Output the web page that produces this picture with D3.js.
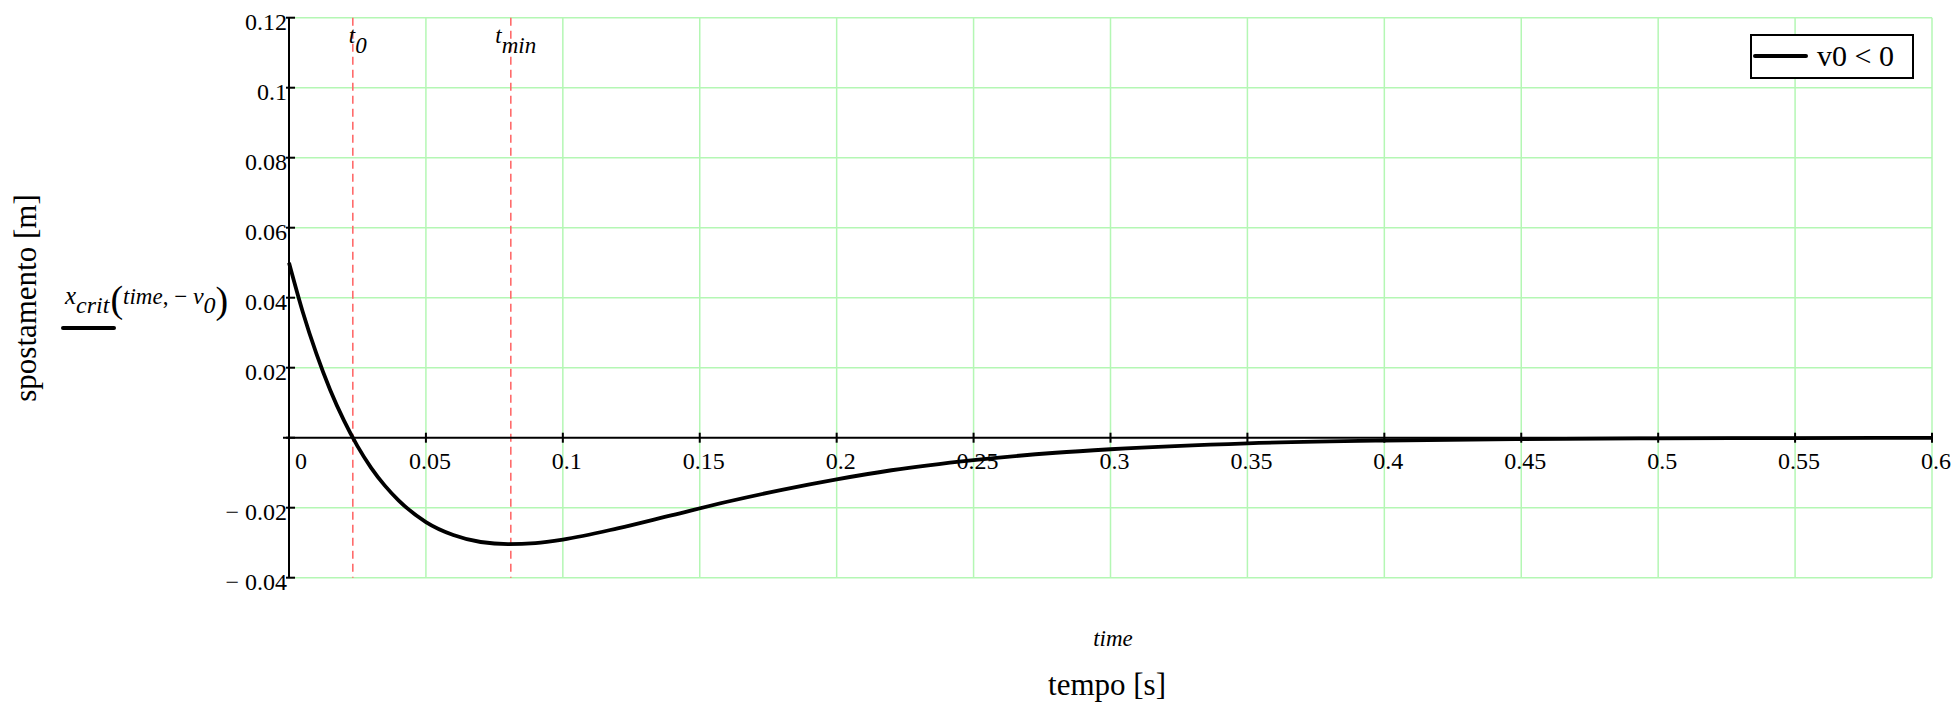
<!DOCTYPE html>
<html>
<head>
<meta charset="utf-8">
<script src="https://cdn.jsdelivr.net/npm/d3@7/dist/d3.min.js"></script>
<style>
  html, body { margin: 0; padding: 0; background: #fff; }
  svg { display: block; font-family: "Liberation Serif", "Times New Roman", serif; }
</style>
</head>
<body>
<svg id="chart" width="1955" height="707"></svg>
<script>
// ---- data ----
const timeValues = [0, 0.005, 0.01, 0.015, 0.02, 0.025, 0.03, 0.035, 0.04, 0.05, 0.06, 0.07, 0.08, 0.09, 0.1,
  0.12, 0.14, 0.16, 0.18, 0.2, 0.22, 0.25, 0.28, 0.3, 0.35, 0.4, 0.45, 0.5, 0.55, 0.6];
const displacement = [0.05, 0.036, 0.024, 0.0137, 0.005, -0.0024, -0.0086, -0.0137, -0.0179, -0.0241, -0.0278, -0.0298, -0.0304, -0.0301, -0.0291,
  -0.0259, -0.0221, -0.0183, -0.0149, -0.0119, -0.0093, -0.0064, -0.0043, -0.0033, -0.0016, -0.0008, -0.0004, -0.0002, -0.0001, -0.00004];
const xTicks = [0, 0.05, 0.1, 0.15, 0.2, 0.25, 0.3, 0.35, 0.4, 0.45, 0.5, 0.55, 0.6];
const xTickLabels = ["0", "0.05", "0.1", "0.15", "0.2", "0.25", "0.3", "0.35", "0.4", "0.45", "0.5", "0.55", "0.6"];
const yTicks = [-0.04, -0.02, 0, 0.02, 0.04, 0.06, 0.08, 0.1, 0.12];
const yTickLabels = ["\u2212 0.04", "\u2212 0.02", "", "0.02", "0.04", "0.06", "0.08", "0.1", "0.12"];
const markerTimes = [0.0233, 0.081];
const markerNames = [["t", "0"], ["t", "min"]];
const seriesName = "v0 < 0";

// ---- layout ----
const svg = d3.select("#chart");
const pLeft = 289, pRight = 1932, pTop = 17.7, pBottom = 577.7;
const x = d3.scaleLinear().domain([0, 0.6]).range([pLeft, pRight]);
const y = d3.scaleLinear().domain([-0.04, 0.12]).range([pBottom, pTop]);
const gridColor = "#b4f7b4";

// grid
const g = svg.append("g");
g.selectAll(".vg").data(xTicks.filter(d => d > 0)).enter().append("line")
  .attr("x1", d => x(d)).attr("x2", d => x(d)).attr("y1", pTop).attr("y2", pBottom)
  .attr("stroke", gridColor).attr("stroke-width", 1.5);
g.selectAll(".hg").data(yTicks.filter(d => d !== 0)).enter().append("line")
  .attr("x1", pLeft).attr("x2", pRight).attr("y1", d => y(d)).attr("y2", d => y(d))
  .attr("stroke", gridColor).attr("stroke-width", 1.5);

// marker lines
g.selectAll(".mk").data(markerTimes).enter().append("line")
  .attr("x1", d => x(d)).attr("x2", d => x(d)).attr("y1", pTop).attr("y2", pBottom)
  .attr("stroke", "#ff6b6b").attr("stroke-width", 1.6).attr("stroke-dasharray", "8,5");

// y axis line
svg.append("line").attr("x1", pLeft).attr("x2", pLeft).attr("y1", pTop).attr("y2", pBottom)
  .attr("stroke", "#000").attr("stroke-width", 2);
// x axis line at 0
svg.append("line").attr("x1", pLeft - 6).attr("x2", pRight).attr("y1", y(0)).attr("y2", y(0))
  .attr("stroke", "#000").attr("stroke-width", 2);

// y ticks
svg.selectAll(".yt").data(yTicks).enter().append("line")
  .attr("x1", pLeft - 3).attr("x2", pLeft + 6).attr("y1", d => y(d)).attr("y2", d => y(d))
  .attr("stroke", "#000").attr("stroke-width", 2);
svg.selectAll(".yl").data(yTicks).enter().append("text")
  .attr("x", pLeft - 2).attr("y", d => y(d) + 12)
  .attr("text-anchor", "end").attr("font-size", 24)
  .text((d, i) => yTickLabels[i]);

// x ticks
svg.selectAll(".xt").data(xTicks).enter().append("line")
  .attr("x1", d => x(d)).attr("x2", d => x(d)).attr("y1", y(0) - 5).attr("y2", y(0) + 5)
  .attr("stroke", "#000").attr("stroke-width", 2);
svg.selectAll(".xl").data(xTicks).enter().append("text")
  .attr("x", d => d === 0 ? x(d) + 12 : x(d) + 4).attr("y", y(0) + 31)
  .attr("text-anchor", "middle").attr("font-size", 24)
  .text((d, i) => xTickLabels[i]);

// curve
const pts = timeValues.map((t, i) => [t, displacement[i]]);
svg.append("path").datum(pts)
  .attr("d", d3.line().x(d => x(d[0])).y(d => y(d[1])).curve(d3.curveMonotoneX))
  .attr("fill", "none").attr("stroke", "#000").attr("stroke-width", 3.8);

// marker labels
markerTimes.forEach((t, i) => {
  const tx = svg.append("text").attr("x", x(t) + 5).attr("y", 43)
    .attr("text-anchor", "middle")
    .attr("font-style", "italic").attr("font-size", 23);
  tx.append("tspan").text(markerNames[i][0]);
  tx.append("tspan").attr("dy", 10).text(markerNames[i][1]);
});

// legend box
const lg = svg.append("g");
lg.append("rect").attr("x", 1751).attr("y", 35).attr("width", 162).attr("height", 43)
  .attr("fill", "#fff").attr("stroke", "#000").attr("stroke-width", 2);
lg.append("line").attr("x1", 1755).attr("x2", 1806).attr("y1", 56).attr("y2", 56)
  .attr("stroke", "#000").attr("stroke-width", 4).attr("stroke-linecap", "round");
lg.append("text").attr("x", 1817).attr("y", 66).attr("font-size", 30).text(seriesName);

// y-axis expression label
const ex = svg.append("text").attr("x", 65).attr("y", 304).attr("font-size", 25);
ex.append("tspan").attr("font-style", "italic").text("x");
ex.append("tspan").attr("font-style", "italic").attr("dy", 9).attr("font-size", 24).text("crit");
ex.append("tspan").attr("dy", -1).attr("font-size", 38).attr("dx", 1).text("(");
ex.append("tspan").attr("dy", -8).attr("font-style", "italic").attr("font-size", 23).text("time");
ex.append("tspan").attr("font-size", 23).text(", \u2212 ");
ex.append("tspan").attr("font-style", "italic").attr("font-size", 24).text("v");
ex.append("tspan").attr("dy", 9).attr("font-style", "italic").attr("font-size", 24).text("0");
ex.append("tspan").attr("dy", 0).attr("font-size", 38).text(")");
svg.append("line").attr("x1", 63).attr("x2", 114).attr("y1", 328).attr("y2", 328)
  .attr("stroke", "#000").attr("stroke-width", 4).attr("stroke-linecap", "round");

// axis titles
svg.append("text").attr("transform", "translate(36,298) rotate(-90)")
  .attr("text-anchor", "middle").attr("font-size", 31).text("spostamento [m]");
svg.append("text").attr("x", 1113).attr("y", 646).attr("text-anchor", "middle")
  .attr("font-style", "italic").attr("font-size", 23).text("time");
svg.append("text").attr("x", 1107).attr("y", 695).attr("text-anchor", "middle")
  .attr("font-size", 31).text("tempo [s]");
</script>
</body>
</html>
